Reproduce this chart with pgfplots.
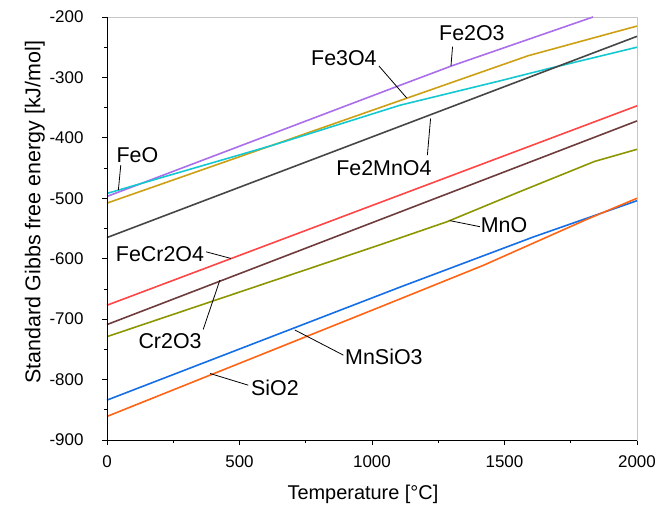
\documentclass[border=0pt]{standalone}
\usepackage{fontspec}
\setmainfont{Liberation Sans}
\usepackage{pgfplots}
\pgfplotsset{compat=1.18}
\definecolor{cPur}{RGB}{170,110,235}
\definecolor{cGold}{RGB}{205,160,20}
\definecolor{cCyan}{RGB}{20,200,210}
\definecolor{cGray}{RGB}{70,70,70}
\definecolor{cRed}{RGB}{255,70,70}
\definecolor{cBrown}{RGB}{110,60,60}
\definecolor{cOlive}{RGB}{140,150,0}
\definecolor{cBlue}{RGB}{20,110,230}
\definecolor{cOrange}{RGB}{255,100,20}
\tikzset{ann/.style={font=\fontsize{21.5}{22}\selectfont, inner sep=0pt},
  lead/.style={black, line width=0.8bp}}
\begin{document}
\begin{tikzpicture}
\begin{axis}[
  scale only axis, width=530bp, height=423bp,
  xmin=0, xmax=2000, ymin=-900, ymax=-200,
  xtick={0,500,...,2000}, ytick={-900,-800,...,-200},
  minor x tick num=1, minor y tick num=1,
  tick align=outside, xtick pos=bottom, ytick pos=left,
  major tick length=5bp, minor tick length=3bp,
  axis line style={draw=gray!45, line width=0.6bp},
  tick style={black, line width=0.8bp},
  /pgf/number format/assume math mode=true,
  /pgf/number format/1000 sep={},
  tick label style={font=\fontsize{17}{17}\selectfont},
  yticklabel style={xshift=-15bp},
  xticklabel style={yshift=-7bp},
  xlabel={Temperature [°C]},
  ylabel={Standard Gibbs free energy [kJ/mol]},
  xlabel style={font=\fontsize{20}{20}\selectfont, at={(axis description cs:0.483,-0.128)}, anchor=center},
  ylabel style={font=\fontsize{21.5}{22}\selectfont, at={(axis description cs:-0.136,0.538)}, anchor=center},
  clip=false,
  every axis plot/.append style={line width=1.6bp},
]
\addplot[cPur] coordinates {(0,-497)(1100,-314)(1300,-281)(1834,-200)};
\addplot[cGold] coordinates {(0,-508)(1590,-264)(2000,-215)};
\addplot[cCyan] coordinates {(0,-492)(627,-412)(1106,-346)(1480,-306)(1670,-285)(2000,-250)};
\addplot[cGray] coordinates {(0,-565)(2000,-232)};
\addplot[cRed] coordinates {(0,-677)(2000,-347)};
\addplot[cBrown] coordinates {(0,-709)(2000,-372)};
\addplot[cOlive] coordinates {(0,-729)(1030,-577)(1282,-539)(1558,-489)(1840,-439)(2000,-419)};
\addplot[cBlue] coordinates {(0,-834)(1106,-647)(1609,-564)(2000,-504)};
\addplot[cOrange] coordinates {(0,-861)(1030,-680)(1420,-611)(1810,-535)(2000,-500)};
\draw[black, line width=0.9bp] (rel axis cs:0,1) -- (rel axis cs:0,0) -- (rel axis cs:1,0);
% annotations
\node[ann] at (axis cs:1377,-226.5) {Fe2O3};
\draw[lead] (axis cs:1304,-249) -- (axis cs:1298,-281);
\node[ann] at (axis cs:894,-268) {Fe3O4};
\draw[lead] (axis cs:1026,-281) -- (axis cs:1131,-334);
\node[ann] at (axis cs:115,-428.5) {FeO};
\draw[lead] (axis cs:52,-445) -- (axis cs:43,-486);
\node[ann] at (axis cs:1045,-450) {Fe2MnO4};
\draw[lead] (axis cs:1209,-428.5) -- (axis cs:1221,-368);
\node[ann] at (axis cs:200,-592) {FeCr2O4};
\draw[lead] (axis cs:374,-588.6) -- (axis cs:467,-599.5);
\node[ann] at (axis cs:238,-736.4) {Cr2O3};
\draw[lead] (axis cs:363,-717) -- (axis cs:426,-635.4);
\node[ann] at (axis cs:1045,-763) {MnSiO3};
\draw[lead] (axis cs:892,-759.6) -- (axis cs:709,-718);
\node[ann] at (axis cs:634,-813.4) {SiO2};
\draw[lead] (axis cs:533,-809.3) -- (axis cs:389,-790);
\node[ann] at (axis cs:1498,-544.4) {MnO};
\draw[lead] (axis cs:1407,-547) -- (axis cs:1294,-537);
\end{axis}
\path ([shift={(-107bp,-68bp)}]current axis.south west) rectangle ([shift={(35bp,17bp)}]current axis.north east);
\end{tikzpicture}
\end{document}
